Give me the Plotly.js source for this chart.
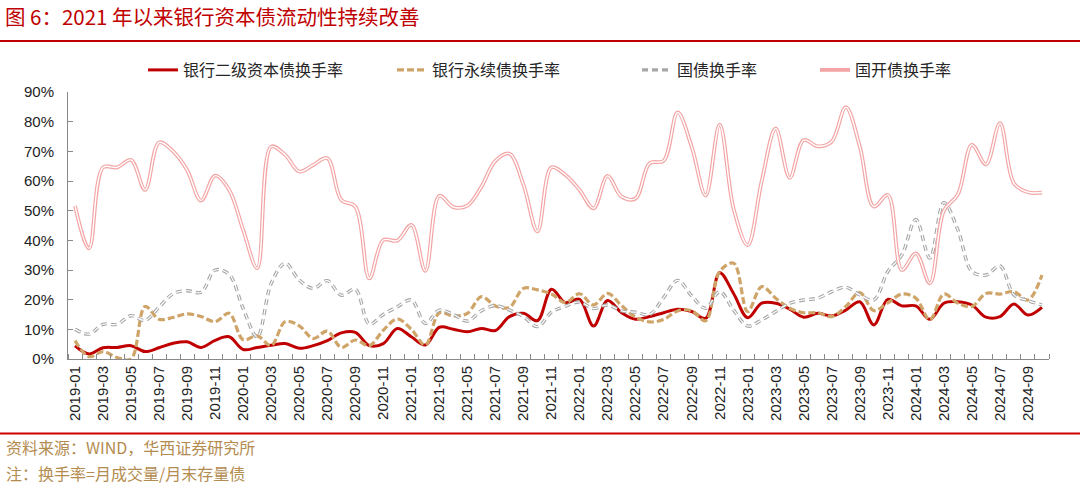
<!DOCTYPE html>
<html><head><meta charset="utf-8">
<script src="https://cdn.plot.ly/plotly-3.0.1.min.js"></script>
<style>html,body{margin:0;padding:0;background:#fff}#chart{width:1080px;height:486px}</style>
</head><body><div id="chart"></div>
<script>
const months = ['2019-01','2019-02','2019-03','2019-04','2019-05','2019-06','2019-07','2019-08','2019-09','2019-10','2019-11','2019-12',
'2020-01','2020-02','2020-03','2020-04','2020-05','2020-06','2020-07','2020-08','2020-09','2020-10','2020-11','2020-12',
'2021-01','2021-02','2021-03','2021-04','2021-05','2021-06','2021-07','2021-08','2021-09','2021-10','2021-11','2021-12',
'2022-01','2022-02','2022-03','2022-04','2022-05','2022-06','2022-07','2022-08','2022-09','2022-10','2022-11','2022-12',
'2023-01','2023-02','2023-03','2023-04','2023-05','2023-06','2023-07','2023-08','2023-09','2023-10','2023-11','2023-12',
'2024-01','2024-02','2024-03','2024-04','2024-05','2024-06','2024-07','2024-08','2024-09','2024-10'];

const tier2 = [4.4,1.7,3.8,3.9,4.5,2.5,3.8,5.3,5.8,3.9,6.3,7.5,
3.2,3.9,4.6,5.2,3.6,4.5,6.2,8.8,9.0,4.5,5.2,10.3,
7.5,4.7,10.7,10.0,9.2,10.3,9.6,14.3,15.4,12.9,23.5,19.0,
20.1,11.1,19.7,15.6,13.4,14.3,15.6,16.8,16.0,13.7,29.1,22.0,
13.9,18.8,18.8,16.8,14.1,15.4,14.5,16.5,19.3,11.5,20.1,17.9,
17.9,13.4,18.8,19.3,18.2,14.1,14.3,18.5,14.8,17.4];

const perpetual = [6.2,0.8,2.5,0.5,0.0,17.7,13.4,14.0,15.2,14.3,12.6,15.4,
6.5,7.8,4.6,12.6,11.2,6.9,9.4,3.9,6.4,4.5,9.7,13.5,
10.0,4.7,15.6,14.5,15.4,21.0,17.9,17.4,23.8,23.3,21.9,19.0,
22.0,18.2,22.1,18.0,14.1,12.5,13.3,16.2,16.3,12.9,29.5,32.3,
16.0,24.4,20.5,17.1,15.6,15.6,14.3,17.7,22.4,16.3,18.9,21.9,
20.5,13.2,21.9,18.8,17.7,22.1,21.9,22.7,19.9,28.3];

const govBond = [10.0,8.4,11.7,11.7,14.6,13.0,17.5,22.0,23.0,22.5,30.0,28.5,
17.0,7.5,25.5,32.3,26.6,23.8,26.4,21.5,23.5,11.8,15.0,17.6,
19.9,12.0,16.5,15.0,12.8,16.3,18.0,16.5,14.3,10.9,15.8,17.8,
19.2,17.0,18.2,16.2,15.8,15.0,20.7,26.5,21.3,17.1,22.7,16.5,
11.1,13.2,16.0,18.8,19.9,20.5,22.7,24.2,21.6,19.9,29.5,35.1,
47.0,34.0,52.7,43.5,29.5,28.3,31.4,21.6,19.7,18.2];

const cdbBond = [51.6,37.3,64.6,64.6,67.1,57.0,73.0,70.0,63.7,53.4,61.8,57.0,
43.5,30.6,71.6,68.8,63.2,65.4,67.7,53.6,51.4,27.2,40.1,39.9,
45.2,29.7,55.0,51.2,51.7,58.1,66.8,69.2,58.7,43.0,64.6,62.0,
57.0,50.8,61.7,54.7,54.1,66.0,66.8,83.1,71.6,55.1,79.0,50.5,
38.4,60.0,77.7,61.1,73.8,71.7,73.3,84.9,71.6,51.4,55.3,30.0,
35.6,25.5,50.0,55.5,72.2,65.6,79.5,59.2,56.2,56.1];

const seriesNames = ['银行二级资本债换手率','银行永续债换手率','国债换手率','国开债换手率'];
const yTicks = [0,10,20,30,40,50,60,70,80,90];
const yTickText = ['0%','10%','20%','30%','40%','50%','60%','70%','80%','90%'];

const xIdx = months.map((m, i) => i);
const tickIdx = xIdx.filter(i => i % 2 === 0);
const tickText = tickIdx.map(i => months[i]);

const W = 1080, H = 486;
const M = {l: 68, r: 31, t: 92, b: 127};
const PW = W - M.l - M.r, PH = H - M.t - M.b;
const px2x = p => (p - M.l) / PW;
const py2y = p => (H - M.b - p) / PH;

const cjk = '"Noto Sans CJK SC", "Noto Sans", sans-serif';
const latin = '"Liberation Sans", Arial, sans-serif';

const traces = [
  {x: xIdx, y: tier2, name: seriesNames[0], type: 'scatter', mode: 'lines',
   line: {color: '#C00000', width: 3, shape: 'spline', smoothing: 1}, legend: 'legend'},
  {x: xIdx, y: perpetual, name: seriesNames[1], type: 'scatter', mode: 'lines',
   line: {color: '#CFA468', width: 3.2, dash: '7px,3px', shape: 'spline', smoothing: 1}, legend: 'legend2'},
  {x: xIdx, y: govBond, name: seriesNames[2], type: 'scatter', mode: 'lines',
   line: {color: '#A6A6A6', width: 3.4, dash: '6px,4px', shape: 'spline', smoothing: 1}, legend: 'legend3'},
  {x: xIdx, y: govBond, name: seriesNames[2], type: 'scatter', mode: 'lines', showlegend: false, hoverinfo: 'skip',
   line: {color: '#FFFFFF', width: 1.2, dash: '6px,4px', shape: 'spline', smoothing: 1}},
  {x: xIdx, y: cdbBond, name: seriesNames[3], type: 'scatter', mode: 'lines',
   line: {color: '#F3A5A5', width: 3.8, shape: 'spline', smoothing: 1}, legend: 'legend4'},
  {x: xIdx, y: cdbBond, name: seriesNames[3], type: 'scatter', mode: 'lines', showlegend: false, hoverinfo: 'skip',
   line: {color: '#FFFFFF', width: 1.4, shape: 'spline', smoothing: 1}}
];

const legFont = {family: cjk, size: 16, color: '#262626'};
const legendAt = (startPx) => ({
  orientation: 'h', x: px2x(startPx), xanchor: 'left', y: py2y(70), yanchor: 'middle',
  font: legFont, bgcolor: 'rgba(0,0,0,0)', borderwidth: 0, itemwidth: 30
});

const layout = {
  width: W, height: H, margin: M,
  paper_bgcolor: '#FFFFFF', plot_bgcolor: '#FFFFFF',
  title: {text: '图 6：2021 年以来银行资本债流动性持续改善', font: {family: cjk, size: 20.5, color: '#C00000'},
          x: 5 / W, xanchor: 'left', xref: 'container', y: 1 - 18 / H, yanchor: 'middle', yref: 'container'},
  showlegend: true,
  legend: legendAt(143),
  legend2: legendAt(392),
  legend3: legendAt(637),
  legend4: legendAt(815),
  xaxis: {
    range: [-0.5, xIdx.length - 0.5], tickmode: 'array', tickvals: tickIdx, ticktext: tickText,
    tickangle: -90, ticks: '', showgrid: false, zeroline: false,
    showline: true, linecolor: '#898989', linewidth: 1,
    tickfont: {family: latin, size: 15, color: '#222'},
    minor: {tickmode: 'linear', tick0: -0.5, dtick: 1, ticks: 'inside', ticklen: 5, tickcolor: '#898989', tickwidth: 1, showgrid: false}
  },
  yaxis: {
    range: [0, 90], tickmode: 'array', tickvals: yTicks, ticktext: yTickText,
    ticks: 'inside', ticklen: 5, tickcolor: '#898989', tickwidth: 1,
    showgrid: false, zeroline: false, showline: true, linecolor: '#898989', linewidth: 1,
    tickfont: {family: latin, size: 15, color: '#222'}, ticklabelstandoff: 10
  },
  shapes: [
    {type: 'line', xref: 'paper', yref: 'paper', x0: px2x(0), x1: px2x(W), y0: py2y(41), y1: py2y(41),
     line: {color: '#C00000', width: 2}},
    {type: 'line', xref: 'paper', yref: 'paper', x0: px2x(0), x1: px2x(W), y0: py2y(433.5), y1: py2y(433.5),
     line: {color: '#D00000', width: 2}}
  ],
  annotations: [
    {text: '资料来源：WIND，华西证券研究所', xref: 'paper', yref: 'paper', x: px2x(4), y: py2y(447),
     xanchor: 'left', yanchor: 'middle', showarrow: false, font: {family: cjk, size: 16, color: '#B48C50'}},
    {text: '注：换手率=月成交量/月末存量债', xref: 'paper', yref: 'paper', x: px2x(4), y: py2y(473),
     xanchor: 'left', yanchor: 'middle', showarrow: false, font: {family: cjk, size: 16, color: '#B48C50'}}
  ]
};

Plotly.newPlot('chart', traces, layout, {displayModeBar: false, staticPlot: true});
</script>
</body></html>
